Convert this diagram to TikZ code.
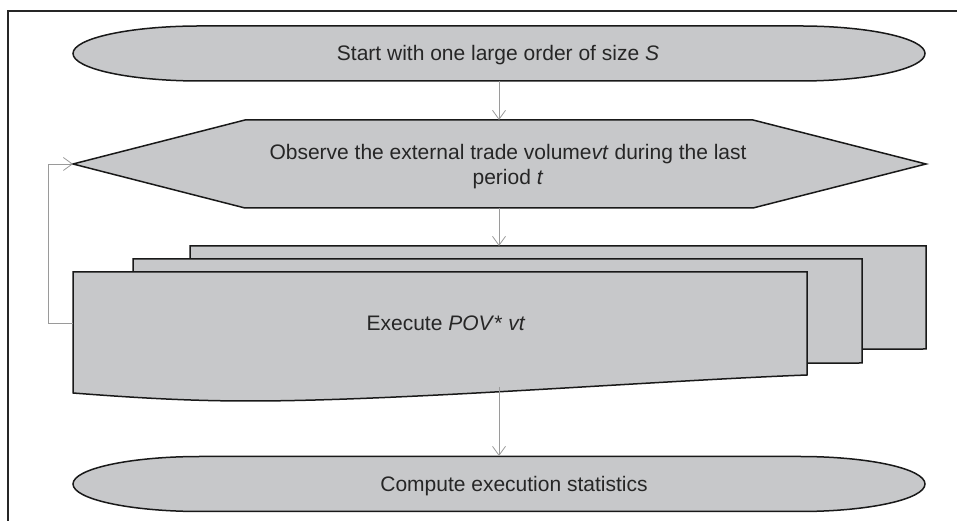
\documentclass[tikz,border=0pt]{standalone}
\usepackage{fontspec}
\setmainfont{Liberation Sans}
\usetikzlibrary{arrows.meta}
\definecolor{boxgray}{HTML}{C7C8CA}
\definecolor{linkgray}{HTML}{9A9A9A}
\begin{document}
\begin{tikzpicture}[x=1pt, y=1pt, font=\fontsize{21}{25}\selectfont]
    % --- styles ---
    \tikzset{
        shapebox/.style={fill=boxgray, draw=black!90, line width=1.5pt},
        flowlink/.style={draw=linkgray, line width=0.8pt, -{Straight Barb[length=9pt, width=13pt]}},
        flowtext/.style={align=center, inner sep=0pt, anchor=base, text=black!85}
    }
    \useasboundingbox (0,0) rectangle (957,521);

    % --- outer frame (cut by the page on the right and below) ---
    \draw[black!85, line width=1.5pt] (8,-10) -- (8,510) -- (970,510);

    % --- terminators (start and end) ---
    \foreach \cy in {467.5, 37} {
        \draw[shapebox] (200,\cy+27.5) -- (800,\cy+27.5)
            arc[start angle=90, end angle=-90, x radius=125pt, y radius=27.5pt]
            -- (200,\cy-27.5)
            arc[start angle=270, end angle=90, x radius=127pt, y radius=27.5pt] -- cycle;
    }

    % --- preparation hexagon ---
    \draw[shapebox] (73,357) -- (245,401) -- (753,401) -- (926,357) -- (753,313) -- (245,313) -- cycle;

    % --- stacked documents, back to front ---
    \draw[shapebox] (190,171) -- (190,275) -- (926,275) -- (926,172) -- cycle;
    \draw[shapebox] (133,157) -- (133,262) -- (862,262) -- (862,158) -- cycle;
    \draw[shapebox] (73,128) -- (73,249) -- (807,249) -- (807,146)
        .. controls (650,140) and (400,120) .. (250,120)
        .. controls (200,120) and (150,122) .. (73,128) -- cycle;

    % --- texts ---
    \node[flowtext] (start) at (498,460) {Start with one large order of size \textit{S}};
    \node[flowtext] (observe) at (508,336) {Observe the external trade volume\textit{vt} during the last\\period \textit{t}};
    \node[flowtext] (execute) at (446,190) {Execute \textit{POV}* \textit{vt}};
    \node[flowtext] (stats) at (514,29.5) {Compute execution statistics};

    % --- edge points of the shapes ---
    \coordinate (startB) at (499,440);
    \coordinate (observeT) at (499,401);
    \coordinate (observeB) at (499,313);
    \coordinate (observeL) at (73,357);
    \coordinate (docT) at (499,275);
    \coordinate (docB) at (499,134);
    \coordinate (docL) at (73,198);
    \coordinate (statsT) at (499,65);

    % --- connectors ---
    \draw[flowlink] (startB) -- (observeT);
    \draw[flowlink] (observeB) -- (docT);
    \draw[flowlink] (docB) -- (statsT);
    \draw[flowlink] (docL) -- ++(-25,0) |- (observeL);
\end{tikzpicture}
\end{document}
